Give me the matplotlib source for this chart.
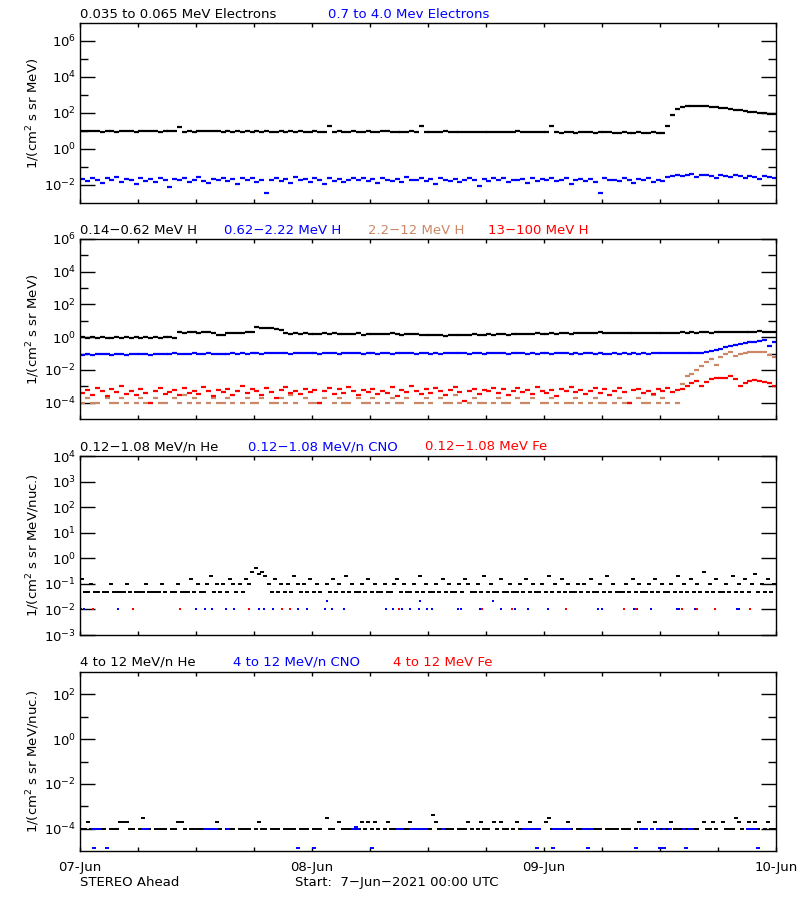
import numpy as np
import pandas as pd
import matplotlib
matplotlib.use("Agg")
import matplotlib.pyplot as plt
import matplotlib.dates as mdates
from matplotlib.ticker import FixedLocator, FuncFormatter, NullFormatter

nan = np.nan
start = pd.Timestamp("2021-06-07 00:00")
end = pd.Timestamp("2021-06-10 00:00")

# 30-min samples for electrons and protons
t30 = pd.date_range("2021-06-07 00:15", periods=144, freq="30min")
# 20-min samples for the quantized He rates
t20 = pd.date_range("2021-06-07 00:10", periods=216, freq="20min")

# --- panel 1: electrons
e_low = [10.2, 9.4, 9.8, 10.5, 9.1, 9.7, 10.0, 9.3, 9.9, 10.4, 9.6, 9.2, 10.1, 9.8, 9.5, 10.3, 9.0, 9.7, 10.6, 9.4,
         16.0, 9.3, 10.2, 8.9, 9.6, 10.0, 9.4, 9.8, 10.5, 9.1, 9.5, 8.8, 9.7, 9.2, 9.9, 9.0, 9.4, 8.7, 9.6, 9.3,
         9.0, 9.5, 8.9, 9.8, 9.2, 9.6, 8.8, 9.3, 9.7, 9.1, 8.9, 18.0, 9.0, 9.6, 8.7, 9.2, 9.5, 8.9, 9.3, 9.8,
         9.1, 8.8, 9.4, 10.2, 9.0, 9.3, 8.6, 9.2, 9.5, 8.9, 20.0, 8.7, 9.3, 8.8, 9.0, 9.4, 8.6, 9.1, 8.9, 8.5,
         9.2, 8.8, 9.0, 8.6, 9.3, 8.7, 8.9, 9.1, 8.5, 8.8, 9.5, 8.9, 8.4, 8.7, 9.0, 8.3, 8.8, 19.0, 8.9, 7.4,
         8.7, 8.5, 8.2, 8.8, 8.4, 8.6, 8.0, 8.5, 8.3, 8.7, 7.9, 8.2, 8.5, 7.8, 8.1, 8.4, 7.7, 8.0, 8.3, 7.9, 8.2,
         20, 80, 160, 215, 240, 252, 248, 242, 235, 222, 205, 190, 178, 165, 150, 138, 126, 116, 108, 101, 96, 92, 89]
e_high = [0.021, 0.016, 0.025, 0.019, 0.013, 0.023, 0.018, 0.027, 0.015, 0.022,
          0.019, 0.011, 0.024, 0.017, 0.021, 0.014, 0.026, 0.019, 0.008, 0.022,
          0.018, 0.025, 0.015, 0.020, 0.029, 0.017, 0.013, 0.022, 0.019, 0.024,
          0.016, 0.021, 0.012, 0.026, 0.018, 0.023, 0.015, 0.020, 0.0036, 0.019,
          0.024, 0.016, 0.022, 0.013, 0.027, 0.018, 0.021, 0.015, 0.023, 0.019,
          0.011, 0.025, 0.017, 0.022, 0.014, 0.020, 0.026, 0.018, 0.023, 0.016,
          0.021, 0.013, 0.024, 0.019, 0.017, 0.022, 0.015, 0.027, 0.020, 0.018,
          0.023, 0.016, 0.021, 0.012, 0.025, 0.019, 0.017, 0.022, 0.014, 0.020,
          0.026, 0.018, 0.009, 0.021, 0.016, 0.023, 0.019, 0.024, 0.015, 0.020,
          0.018, 0.022, 0.013, 0.025, 0.017, 0.021, 0.019, 0.023, 0.016, 0.020,
          0.024, 0.012, 0.019, 0.022, 0.017, 0.021, 0.015, 0.0036, 0.023, 0.018,
          0.020, 0.016, 0.024, 0.019, 0.013, 0.022, 0.018, 0.025, 0.015, 0.020,
          0.017, 0.028, 0.033, 0.038, 0.031, 0.036, 0.040, 0.029, 0.034, 0.037,
          0.030, 0.026, 0.035, 0.032, 0.028, 0.037, 0.031, 0.024, 0.033, 0.029,
          0.022, 0.030, 0.027, 0.025]

# --- panel 2: protons
h1 = [1.05, 0.95, 1.0, 0.9, 1.1, 0.95, 0.88, 1.0, 0.92, 1.05, 0.9, 0.97, 0.85, 1.0, 0.93, 1.02, 0.9, 0.96, 1.08, 0.94,
      2.1, 1.9, 2.2, 2.0, 1.85, 2.05, 1.95, 1.8, 1.3, 1.4, 1.7, 1.8, 1.9, 1.85, 1.95, 2.0, 4.1, 3.9, 3.6, 3.4,
      3.1, 2.8, 1.8, 1.6, 1.7, 1.55, 1.75, 1.6, 1.65, 1.5, 1.7, 1.6, 1.75, 1.55, 1.65, 1.6, 1.5, 1.7, 1.45, 1.6,
      1.55, 1.65, 1.5, 1.6, 1.7, 1.55, 1.45, 1.6, 1.5, 1.65, 1.4, 1.35, 1.45, 1.3, 1.4, 1.25, 1.35, 1.3, 1.45, 1.4,
      1.35, 1.5, 1.4, 1.45, 1.55, 1.4, 1.5, 1.6, 1.45, 1.55, 1.5, 1.65, 1.55, 1.6, 1.7, 1.55, 1.65, 1.75, 1.6, 1.7,
      1.8, 1.65, 1.75, 1.9, 1.7, 1.85, 1.8, 1.95, 1.75, 1.85, 1.7, 1.8, 1.9, 1.75, 1.85, 1.7, 1.8, 1.75, 1.85, 1.9,
      1.8, 1.85, 1.75, 1.9, 1.95, 1.85, 2.0, 1.9, 1.95, 2.05, 1.9, 2.0, 2.1, 1.95, 2.05, 2.2, 2.1, 2.15, 2.0, 2.1,
      2.25, 2.15, 2.05, 2.1]
h2 = [0.085, 0.09, 0.08, 0.095, 0.088, 0.092, 0.083, 0.097, 0.09, 0.086, 0.094, 0.089, 0.098, 0.091, 0.087, 0.1, 0.093, 0.096, 0.089, 0.11,
      0.095, 0.1, 0.092, 0.104, 0.098, 0.094, 0.102, 0.097, 0.088, 0.1, 0.095, 0.106, 0.099, 0.103, 0.096, 0.101, 0.108, 0.1, 0.112, 0.105,
      0.11, 0.102, 0.107, 0.099, 0.104, 0.109, 0.101, 0.113, 0.106, 0.1, 0.108, 0.103, 0.111, 0.098, 0.105, 0.11, 0.102, 0.107, 0.1, 0.106,
      0.104, 0.099, 0.108, 0.102, 0.097, 0.105, 0.11, 0.101, 0.106, 0.099, 0.104, 0.108, 0.1, 0.103, 0.097, 0.106, 0.102, 0.109, 0.101, 0.105,
      0.1, 0.107, 0.103, 0.098, 0.106, 0.101, 0.109, 0.104, 0.099, 0.105, 0.102, 0.108, 0.097, 0.104, 0.1, 0.106, 0.103, 0.099, 0.105, 0.101,
      0.107, 0.1, 0.104, 0.098, 0.106, 0.102, 0.097, 0.103, 0.1, 0.095, 0.104, 0.099, 0.102, 0.096, 0.105, 0.1, 0.103, 0.098, 0.106, 0.101, 0.108, 0.104, 0.11,
      0.105, 0.108, 0.103, 0.11, 0.107, 0.115, 0.125, 0.14, 0.16, 0.2, 0.24, 0.28, 0.32, 0.36, 0.42, 0.48, 0.53, 0.6, 0.64, 0.28, 0.5]
h3 = [9.5e-5, 2e-4, 9.5e-5, 9.5e-5, nan, 2e-4, 9.5e-5, 9.5e-5, 2e-4, 9.5e-5, nan, 9.5e-5,
      2e-4, 9.5e-5, 9.5e-5, 2e-4, 9.5e-5, 9.5e-5, nan, 2e-4, 9.5e-5, 3e-4, 9.5e-5, 2e-4,
      9.5e-5, nan, 9.5e-5, 2e-4, 9.5e-5, 9.5e-5, 2e-4, 9.5e-5, nan, 9.5e-5, 2e-4, 9.5e-5,
      9.5e-5, 2e-4, nan, 9.5e-5, 9.5e-5, 2e-4, 9.5e-5, 3e-4, 9.5e-5, nan, 2e-4, 9.5e-5,
      9.5e-5, 9.5e-5, 2e-4, nan, 9.5e-5, 2e-4, 9.5e-5, 9.5e-5, nan, 2e-4, 9.5e-5, 9.5e-5,
      2e-4, 9.5e-5, nan, 9.5e-5, 2e-4, 9.5e-5, 9.5e-5, 2e-4, nan, 9.5e-5, 9.5e-5, 2e-4,
      9.5e-5, nan, 2e-4, 9.5e-5, 9.5e-5, 3e-4, 9.5e-5, nan, 9.5e-5, 2e-4, 9.5e-5, 9.5e-5,
      nan, 9.5e-5, 2e-4, 9.5e-5, 9.5e-5, nan, 2e-4, 9.5e-5, 9.5e-5, 2e-4, nan, 9.5e-5,
      9.5e-5, 2e-4, 9.5e-5, nan, 9.5e-5, 9.5e-5, 2e-4, 9.5e-5, nan, 9.5e-5, 2e-4, 9.5e-5,
      9.5e-5, nan, 9.5e-5, 2e-4, 9.5e-5, 9.5e-5, nan, 2e-4, 9.5e-5, 9.5e-5, 3e-4, 9.5e-5,
      2e-4, 9.5e-5, nan, 9.5e-5,
      1.3e-3, 4e-3, 5.5e-3, 0.01, 0.018, 0.03, 0.045, 0.02, 0.06, 0.1,
      0.12, 0.07, 0.1, 0.11, 0.12, 0.125, 0.13, 0.12, 0.085, 0.065]
h4 = [4e-4, 6e-4, 3e-4, 8e-4, 5e-4, 2.5e-4, 7e-4, 4.5e-4, 1e-3, 3.5e-4, 5.5e-4, 3e-4,
      6.5e-4, 4e-4, 1e-4, 5e-4, 7.5e-4, 3.5e-4, 4.5e-4, 6e-4, 3e-4, 8e-4, 4e-4, 5.5e-4,
      3.5e-4, 9e-4, 5e-4, 2.5e-4, 6e-4, 4.5e-4, 7e-4, 3e-4, 5.5e-4, 1.1e-3, 4e-4, 6.5e-4,
      5e-4, 3e-4, 7.5e-4, 4.5e-4, 2e-4, 6e-4, 8.5e-4, 4e-4, 5.5e-4, 3.5e-4, 7e-4, 4.5e-4,
      6e-4, 1e-4, 5e-4, 8e-4, 3.5e-4, 6.5e-4, 4e-4, 9e-4, 5e-4, 3e-4, 6e-4, 4.5e-4,
      7e-4, 3.5e-4, 5.5e-4, 4e-4, 8.5e-4, 2.5e-4, 6e-4, 4.5e-4, 1e-3, 5e-4, 3.5e-4, 6.5e-4,
      4e-4, 7.5e-4, 5e-4, 3e-4, 6e-4, 9e-4, 4.5e-4, 1.2e-4, 5.5e-4, 7e-4, 3.5e-4, 6e-4,
      5e-4, 8e-4, 4e-4, 6.5e-4, 3e-4, 5.5e-4, 7.5e-4, 4.5e-4, 6e-4, 3.5e-4, 9.5e-4, 5e-4,
      4e-4, 6e-4, 2.5e-4, 7e-4, 5e-4, 8.5e-4, 4.5e-4, 6e-4, 3.5e-4, 5.5e-4, 7.5e-4, 4e-4,
      6.5e-4, 3e-4, 5e-4, 8e-4, 4.5e-4, 1e-4, 6e-4, 7e-4, 4e-4, 5.5e-4, 3.5e-4, 6.5e-4,
      5e-4, 8e-4, 4.5e-4, 6e-4, 7e-4,
      1e-3, 1.5e-3, 2e-3, 1.1e-3, 1.8e-3, 2.6e-3, 3e-3, 3.3e-3, 3.1e-3, 4e-3,
      2.8e-3, 1.1e-3, 1.5e-3, 2.1e-3, 2.4e-3, 2.2e-3, 1.9e-3, 1.6e-3, 1.1e-3]

# --- panel 3: 0.12-1.08 MeV/n heavy ions
he_low = [0.15, 0.05, 0.05, 0.1, 0.05, 0.05, nan, 0.05, 0.05, 0.1, 0.05, 0.05,
          0.05, 0.05, 0.1, 0.05, nan, 0.05, 0.05, 0.05, 0.1, 0.05, 0.05, 0.05,
          0.05, 0.1, 0.05, nan, 0.05, 0.05, 0.1, 0.05, 0.05, 0.05, 0.15, 0.05,
          0.1, 0.05, 0.05, 0.1, 0.2, 0.05, 0.1, 0.05, 0.1, 0.05, 0.15, 0.1,
          0.05, 0.1, 0.05, 0.15, 0.1, 0.3, 0.4, 0.25, 0.3, 0.2, 0.1, 0.05,
          0.15, 0.05, 0.1, 0.05, 0.1, 0.05, 0.2, 0.1, 0.05, 0.1, 0.05, 0.15,
          0.05, 0.1, 0.05, nan, 0.1, 0.05, 0.15, 0.05, 0.1, 0.05, 0.2, 0.05,
          0.1, 0.05, 0.05, 0.1, 0.05, 0.15, 0.05, 0.1, 0.05, 0.05, 0.1, 0.05,
          0.05, 0.1, 0.15, 0.05, 0.1, 0.05, 0.05, 0.1, 0.05, 0.2, 0.05, 0.1,
          0.05, 0.05, 0.1, 0.05, 0.15, 0.05, 0.1, 0.05, 0.05, 0.1, 0.05, 0.15,
          0.1, 0.05, 0.05, 0.1, 0.05, 0.2, 0.05, 0.1, 0.05, 0.05, 0.15, 0.05,
          0.05, 0.1, 0.05, 0.05, 0.1, 0.05, 0.15, 0.05, 0.1, 0.05, 0.05, 0.1,
          0.05, 0.2, 0.05, 0.1, 0.05, 0.15, 0.05, 0.1, 0.05, 0.05, 0.1, 0.05,
          0.1, 0.05, 0.15, 0.05, 0.05, 0.1, 0.05, 0.2, 0.05, 0.1, 0.05, 0.05,
          0.05, 0.1, 0.05, 0.15, 0.05, 0.1, 0.05, 0.05, 0.1, 0.05, 0.15, 0.05,
          0.1, 0.05, 0.05, 0.1, 0.05, 0.2, 0.05, 0.1, 0.05, 0.15, 0.05, 0.1,
          0.05, 0.3, 0.05, 0.1, 0.05, 0.15, 0.05, 0.05, 0.1, 0.05, 0.2, 0.05,
          0.1, 0.05, 0.15, 0.05, 0.1, 0.25, 0.05, 0.1, 0.05, 0.15, 0.05, 0.1]
cno_low_hours = [0.1, 0.4, 3.9, 12.0, 12.9, 13.7, 15.1, 15.9, 18.5, 19.0, 20.0, 20.9, 22.5, 23.5,
                 25.3, 26.1, 27.3, 31.7, 32.4, 33.3, 34.1, 35.1, 35.9, 36.4, 39.1, 39.4, 41.4, 41.6,
                 43.5, 44.7, 45.0, 46.3, 48.4, 53.6, 54.0, 57.3, 57.6, 59.1, 61.8, 62.0, 63.6, 68.0,
                 68.2, 25.5, 35.2, 42.7]
cno_low_vals = [0.01] * 43 + [0.021, 0.021, 0.021]
fe_low_hours = [1.3, 5.5, 10.3, 17.5, 20.9, 21.7, 33.0, 41.6, 44.7, 50.3, 56.3, 57.5, 62.3, 63.8, 65.7, 69.3]
fe_low_vals = [0.01] * 16

# --- panel 4: 4-12 MeV/n heavy ions
he_high = [1e-4, 1e-4, 2e-4, 1e-4, nan, 1e-4, 1e-4, 1e-4, nan, 1e-4, 1e-4, 1e-4,
           2e-4, 2e-4, 2e-4, 1e-4, 1e-4, nan, 1e-4, 3e-4, 1e-4, 1e-4, nan, 1e-4,
           1e-4, 1e-4, 1e-4, nan, 1e-4, 1e-4, 2e-4, 2e-4, 1e-4, nan, 1e-4, 1e-4,
           1e-4, 1e-4, nan, 1e-4, 1e-4, 1e-4, 2e-4, 1e-4, nan, 1e-4, 1e-4, 1e-4,
           nan, 1e-4, 1e-4, 1e-4, 1e-4, nan, 1e-4, 2e-4, 1e-4, 1e-4, nan, 1e-4,
           1e-4, 1e-4, nan, 1e-4, 1e-4, 1e-4, 1e-4, nan, 1e-4, 1e-4, 1e-4, nan,
           1e-4, 1e-4, 1e-4, nan, 3e-4, 1e-4, 1e-4, nan, 2e-4, 1e-4, 1e-4, 1e-4,
           nan, 1e-4, 1e-4, 2e-4, 1e-4, 2e-4, 1e-4, 2e-4, 1e-4, nan, 1e-4, 2e-4,
           1e-4, 1e-4, nan, 1e-4, 1e-4, 1e-4, 2e-4, 1e-4, 1e-4, nan, 1e-4, 1e-4,
           1e-4, 4e-4, 2e-4, 1e-4, nan, 1e-4, 1e-4, 1e-4, nan, 1e-4, 1e-4, 1e-4,
           2e-4, 1e-4, nan, 1e-4, 2e-4, 1e-4, 1e-4, nan, 2e-4, 1e-4, 2e-4, 1e-4,
           1e-4, nan, 1e-4, 2e-4, 1e-4, 1e-4, nan, 2e-4, 1e-4, 1e-4, 1e-4, nan,
           2e-4, 3e-4, 1e-4, 1e-4, nan, 1e-4, 1e-4, 2e-4, 1e-4, nan, 1e-4, 1e-4,
           1e-4, 1e-4, nan, 1e-4, 1e-4, 1e-4, nan, 1e-4, 1e-4, 1e-4, 1e-4, nan,
           1e-4, 1e-4, 1e-4, nan, 1e-4, 2e-4, 1e-4, 1e-4, nan, 1e-4, 2e-4, 1e-4,
           1e-4, nan, 1e-4, 2e-4, 1e-4, 1e-4, 1e-4, nan, 1e-4, 1e-4, 1e-4, 1e-4,
           nan, 2e-4, 1e-4, 1e-4, 2e-4, 1e-4, nan, 2e-4, 1e-4, 1e-4, 1e-4, 3e-4,
           2e-4, 1e-4, nan, 2e-4, 1e-4, 2e-4, 1e-4, nan, 1e-4, 2e-4, 1e-4, 1e-4]
cno_high_hours = [1.3, 1.7, 2.0, 6.5, 6.9, 12.9, 13.3, 13.7, 14.1, 15.3, 28.2, 28.5, 28.8, 32.9, 33.3,
                  34.2, 34.6, 35.0, 35.4, 35.8, 37.5, 45.9, 46.3, 46.7, 47.1, 47.5, 49.0, 49.4, 49.8,
                  50.2, 50.6, 52.1, 52.5, 52.9, 58.0, 58.6, 59.2, 59.8, 60.4, 61.0, 62.5, 63.0, 63.3,
                  69.1, 69.5, 69.9,
                  1.45, 2.8, 22.6, 24.2, 30.2, 47.3, 48.9, 52.6, 57.5, 60.0, 60.4, 62.7, 70.1]
cno_high_vals = [1e-4] * 11 + [1.2e-4] + [1e-4] * 34 + [1.3e-5] * 13
fe_high_hours = []
fe_high_vals = []


def hours(h):
    return start + pd.to_timedelta(np.array(h, dtype=float), unit="h")


def label10(v, pos):
    return r"$10^{%d}$" % int(round(np.log10(v)))


def setup(ax, ylim, major, minor, xlabels=False):
    ax.set_yscale("log")
    ax.set_ylim(*ylim)
    ax.set_xlim(start, end)
    ax.yaxis.set_major_locator(FixedLocator(major))
    ax.yaxis.set_minor_locator(FixedLocator(minor))
    ax.yaxis.set_major_formatter(FuncFormatter(label10))
    ax.yaxis.set_minor_formatter(NullFormatter())
    ax.xaxis.set_major_locator(mdates.DayLocator())
    ax.xaxis.set_minor_locator(mdates.HourLocator(byhour=[6, 12, 18]))
    ax.xaxis.set_major_formatter(mdates.DateFormatter("%d-%b"))
    ax.tick_params(axis="y", which="major", direction="in", length=11, width=1,
                   left=True, right=True, labelsize=9.5, pad=3)
    ax.tick_params(axis="y", which="minor", direction="in", length=5.5, width=1,
                   left=True, right=True)
    ax.tick_params(axis="x", which="both", direction="in", length=3, width=1,
                   top=True, bottom=True, labelbottom=xlabels, labelsize=9.5, pad=7)
    for s in ax.spines.values():
        s.set_linewidth(1.0)


plt.rcParams["font.family"] = "DejaVu Sans"
fig = plt.figure(figsize=(8, 9), dpi=100)
W, H = 800.0, 900.0
boxes = [(23, 203), (239, 419), (456, 635), (672, 851)]
axes = [fig.add_axes([80 / W, 1 - b / H, 696 / W, (b - t) / H]) for t, b in boxes]

brown = "#cc8866"
band = dict(ls="none", marker="_", ms=3.6, mew=1.6)
dot = dict(ls="none", marker="s", ms=2.0, mew=0)
dash = dict(ls="none", marker="_", ms=3.5, mew=1.4)

ax = axes[0]
ax.plot(t30, e_low, color="black", **band)
ax.plot(t30, e_high, color="blue", **band)
setup(ax, (1e-3, 1e7), [1e-2, 1, 1e2, 1e4, 1e6], [1e-1, 1e1, 1e3, 1e5])

ax = axes[1]
ax.plot(t30, h1, color="black", **band)
ax.plot(t30, h2, color="blue", **band)
ax.plot(t30, h3, color=brown, **band)
ax.plot(t30, h4, color="red", **band)
setup(ax, (1e-5, 1e6), [1e-4, 1e-2, 1, 1e2, 1e4, 1e6], [1e-3, 1e-1, 1e1, 1e3, 1e5])

ax = axes[2]
ax.plot(t20, he_low, color="black", **dash)
ax.plot(hours(cno_low_hours), cno_low_vals, color="blue", **dot)
ax.plot(hours(fe_low_hours), fe_low_vals, color="red", **dot)
setup(ax, (1e-3, 1e4), [1e-3, 1e-2, 1e-1, 1, 1e1, 1e2, 1e3, 1e4], [])

ax = axes[3]
ax.plot(t20, he_high, color="black", **dash)
ax.plot(hours(cno_high_hours), cno_high_vals, color="blue", **dash)
ax.plot(hours(fe_high_hours), fe_high_vals, color="red", **dash)
setup(ax, (1e-5, 1e3), [1e-4, 1e-2, 1, 1e2], [1e-3, 1e-1, 1e1], xlabels=True)

# panel headers
titles = [
    (18.5, [(80, "0.035 to 0.065 MeV Electrons", "black"),
            (328, "0.7 to 4.0 Mev Electrons", "blue")]),
    (234, [(80, "0.14-0.62 MeV H", "black"), (224, "0.62-2.22 MeV H", "blue"),
           (368, "2.2-12 MeV H", brown), (488, "13-100 MeV H", "red")]),
    (450, [(80, "0.12-1.08 MeV/n He", "black"), (248, "0.12-1.08 MeV/n CNO", "blue"),
           (425, "0.12-1.08 MeV Fe", "red")]),
    (665.5, [(80, "4 to 12 MeV/n He", "black"), (233, "4 to 12 MeV/n CNO", "blue"),
             (393, "4 to 12 MeV Fe", "red")]),
]
for ybase, items in titles:
    for x, txt, col in items:
        fig.text(x / W, 1 - ybase / H, txt.replace("-", "\u2212"), color=col,
                 fontsize=9.5, ha="left", va="baseline")

ylabels = [r"1/(cm$^2$ s sr MeV)", r"1/(cm$^2$ s sr MeV)",
           r"1/(cm$^2$ s sr MeV/nuc.)", r"1/(cm$^2$ s sr MeV/nuc.)"]
for (t, b), lab in zip(boxes, ylabels):
    fig.text(33 / W, 1 - (t + b) / 2 / H, lab, rotation=90, ha="center", va="center",
             fontsize=9.5)

fig.text(80 / W, 1 - 886 / H, "STEREO Ahead", fontsize=9.5, ha="left", va="baseline")
fig.text(295 / W, 1 - 886 / H, "Start:  7\u2212Jun\u22122021 00:00 UTC", fontsize=9.5,
         ha="left", va="baseline")

fig.savefig("out.png", dpi=100, facecolor="white")
